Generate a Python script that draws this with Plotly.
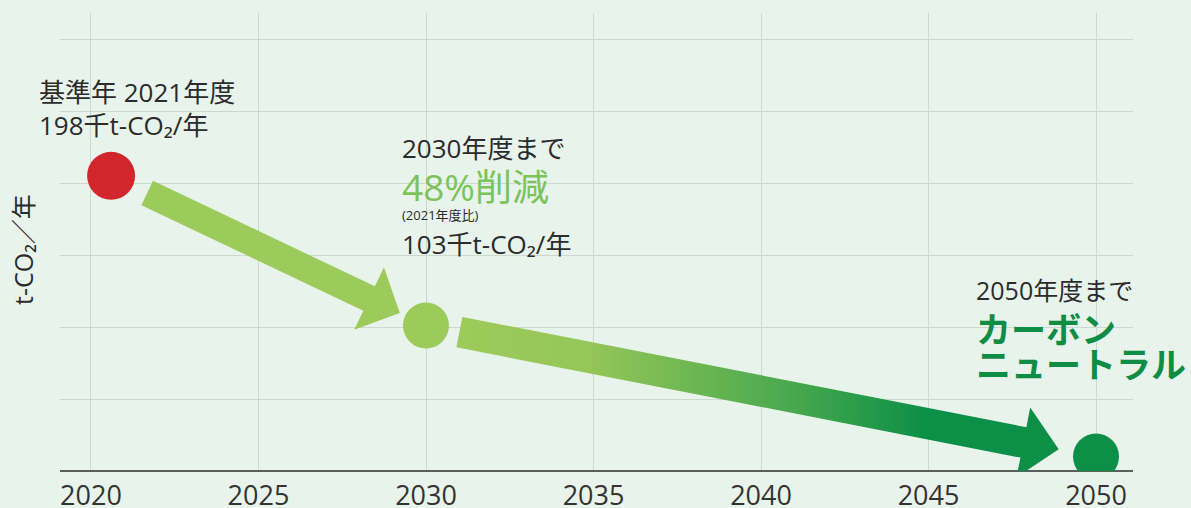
import plotly.graph_objects as go
import numpy as np

# ---- data ----
years = [2020.6, 2030, 2050]
emissions_pos = [205, 101, 10]          # positions (axis units)
dot_colors = ["#d0262c", "#9ccb5b", "#0c8f46"]
dot_sizes = [48, 46, 46]
tick_years = [2020, 2025, 2030, 2035, 2040, 2045, 2050]
tick_labels = ["2020", "2025", "2030", "2035", "2040", "2045", "2050"]
grid_values = [50, 100, 150, 200, 250, 300]

W, H = 1191, 508
L, R, T, B = 60, 58, 13, 37
xr = [2019.075, 2051.104]
yr = [0, 318.06]
pw, ph = W - L - R, H - T - B

def to_px(x, y):
    return (L + (x - xr[0]) / (xr[1] - xr[0]) * pw,
            T + ph - (y - yr[0]) / (yr[1] - yr[0]) * ph)

def to_data(px, py):
    return (xr[0] + (px - L) / pw * (xr[1] - xr[0]),
            yr[0] + (T + ph - py) / ph * (yr[1] - yr[0]))

def arrow(i, j, gap0, gap1, w, hw, hl):
    p0 = np.array(to_px(years[i], emissions_pos[i]))
    p1 = np.array(to_px(years[j], emissions_pos[j]))
    u = (p1 - p0) / np.linalg.norm(p1 - p0)
    n = np.array([-u[1], u[0]])
    s = p0 + u * gap0
    tip = p1 - u * gap1
    hb = tip - u * hl
    pts = [s + n * w / 2, hb + n * w / 2, hb + n * hw / 2, tip,
           hb - n * hw / 2, hb - n * w / 2, s - n * w / 2, s + n * w / 2]
    xs, ys = zip(*[to_data(*p) for p in pts])
    return list(xs), list(ys)

fig = go.Figure()

ax1, ay1 = arrow(0, 1, 40, 29, 27, 69, 34)
fig.add_trace(go.Scatter(x=ax1, y=ay1, mode="lines", fill="toself",
                         fillcolor="#9ccb5b", line=dict(width=0),
                         hoverinfo="skip", showlegend=False))
ax2, ay2 = arrow(1, 2, 34, 38, 31, 71, 36)
fig.add_trace(go.Scatter(x=ax2, y=ay2, mode="lines", fill="toself",
                         fillgradient=dict(type="horizontal",
                                           colorscale=[[0, "#9ccb5b"], [0.22, "#94c658"],
                                                       [0.55, "#4aa94e"], [0.78, "#0c8f46"],
                                                       [1, "#0c8f46"]]),
                         line=dict(width=0), hoverinfo="skip", showlegend=False))

fig.add_trace(go.Scatter(x=years, y=emissions_pos, mode="markers",
                         marker=dict(size=dot_sizes, color=dot_colors, opacity=1,
                                     line=dict(width=0)),
                         opacity=1, hoverinfo="skip", showlegend=False))

FONT = "Open Sans, Noto Sans CJK JP"
DARK = "#2b2b2b"

def ann(i, text, dx, dy, size, color=DARK, bold=False):
    t = f"<b>{text}</b>" if bold else text
    fig.add_annotation(x=years[i], y=emissions_pos[i], xref="x", yref="y",
                       text=t, showarrow=False, xanchor="left", yanchor="middle",
                       xshift=dx, yshift=dy,
                       font=dict(family=FONT, size=size, color=color))

ann(0, "基準年 2021年度", -74, 84, 26)
ann(0, "198千t-CO₂/年", -74, 51, 26)
ann(1, "2030年度まで", -26, 178, 26)
ann(1, "48%削減", -26, 139, 37, color="#7cc35b")
ann(1, "(2021年度比)", -26, 111, 13)
ann(1, "103千t-CO₂/年", -26, 82, 26)
ann(2, "2050年度まで", -122, 167, 25)
ann(2, "カーボン", -122, 127, 35, color="#0f8d45", bold=True)
ann(2, "ニュートラル", -122, 92, 35, color="#0f8d45", bold=True)

fig.add_annotation(xref="paper", yref="paper", x=(23 - L) / pw, y=(H - B - 250) / ph,
                   text="t-CO₂／年", textangle=-90, showarrow=False,
                   xanchor="center", yanchor="middle",
                   font=dict(family=FONT, size=25, color=DARK))

fig.update_layout(
    width=W, height=H, margin=dict(l=L, r=R, t=T, b=B, autoexpand=False),
    paper_bgcolor="#e8f3eb", plot_bgcolor="#e8f3eb",
    showlegend=False,
    xaxis=dict(range=xr, tickvals=tick_years, ticktext=tick_labels, automargin=False,
               showgrid=True, gridcolor="#cdd8d1", gridwidth=1,
               zeroline=False, showline=False,
               ticks="outside", ticklen=1, tickcolor="rgba(0,0,0,0)",
               tickfont=dict(family=FONT, size=27, color="#333333")),
    yaxis=dict(range=yr, tickvals=grid_values, showticklabels=False, automargin=False,
               showgrid=True, gridcolor="#cdd8d1", gridwidth=1,
               zeroline=True, zerolinecolor="#5a5f5c", zerolinewidth=2, showline=False),
)

fig.write_html("out.html", config={"displayModeBar": False},
               post_script="document.body.style.margin='0';document.body.style.overflow='hidden';")
